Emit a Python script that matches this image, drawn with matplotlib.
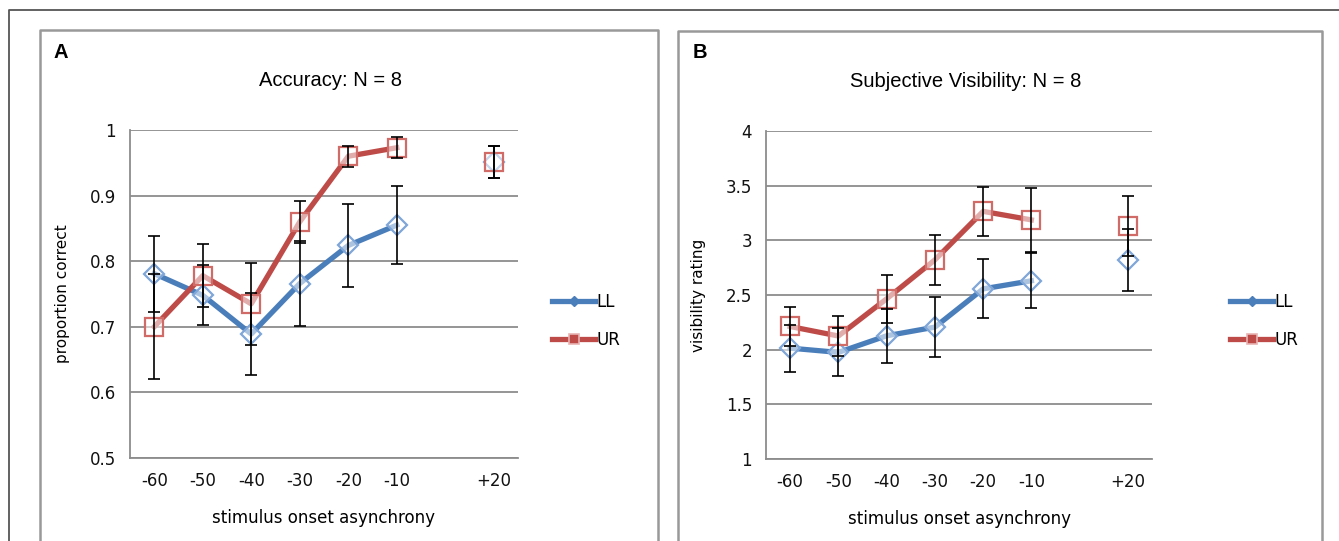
import numpy as np
import matplotlib
matplotlib.use('Agg')
import matplotlib.pyplot as plt
from matplotlib.lines import Line2D

plt.rcParams['font.family'] = ['DejaVu Sans']

# categories (slot 6 is an empty gap before +20)
soa = ['-60', '-50', '-40', '-30', '-20', '-10', '', '+20']

# panel A: accuracy
acc_ll = [0.781, 0.748, 0.689, 0.766, 0.824, 0.855, np.nan, 0.951]
acc_ur = [0.700, 0.778, 0.735, 0.860, 0.960, 0.973, np.nan, 0.951]
acc_ll_err = [0.058, 0.046, 0.063, 0.065, 0.063, 0.060, np.nan, 0.024]
acc_ur_err = [0.080, 0.048, 0.062, 0.032, 0.016, 0.016, np.nan, 0.024]

# panel B: visibility
vis_ll = [2.014, 1.975, 2.127, 2.206, 2.556, 2.630, np.nan, 2.821]
vis_ur = [2.212, 2.125, 2.465, 2.821, 3.265, 3.187, np.nan, 3.135]
vis_ll_err = [0.215, 0.220, 0.245, 0.275, 0.270, 0.250, np.nan, 0.285]
vis_ur_err = [0.180, 0.180, 0.220, 0.225, 0.225, 0.290, np.nan, 0.275]

blue = '#4A7EBB'
red = '#BE4B48'
grid_c = '#8c8c8c'
W, H = 1339, 541

fig = plt.figure(figsize=(W / 100, H / 100), dpi=100)

# outer frame and panel boxes (pixel coords -> figure fraction)
def fline(xs, ys, c='#666666', lw=1.3):
    fig.add_artist(Line2D([x / W for x in xs], [1 - y / H for y in ys],
                          color=c, lw=lw, transform=fig.transFigure))

fline([9, 9, W], [H, 10, 10], c='#555555')
fline([40, 40, 658, 658], [H, 30, 30, H], c='#999999', lw=1.8)
fline([678, 678, 1322, 1322], [H, 31, 31, H], c='#999999', lw=1.8)


def panel(rect, ll, ur, ll_err, ur_err, ylim, yticks, yticklabels,
          title, ylabel, letter, letter_xy, legend_x):
    ax = fig.add_axes(rect)
    x = np.arange(len(soa))
    ax.set_xlim(-0.5, len(soa) - 0.5)
    ax.set_ylim(*ylim)
    ax.set_yticks(yticks)
    ax.set_yticklabels(yticklabels)
    ax.set_xticks(x[:6].tolist() + [7])
    ax.set_xticklabels(soa[:6] + [soa[7]])
    for v in yticks:
        ax.axhline(v, color=grid_c, lw=1.3, zorder=0)
    for s in ['top', 'right']:
        ax.spines[s].set_visible(False)
    for s in ['left', 'bottom']:
        ax.spines[s].set_color(grid_c)
        ax.spines[s].set_linewidth(1.3)
    ax.tick_params(length=0, labelsize=12, pad=10, colors='#111111')

    ax.plot(x, ll, color=blue, lw=3.8, marker='D', ms=10,
            mfc=(1, 1, 1, 0.55), mec='#7FA6D8', mew=1.6, zorder=3, label='LL')
    ax.plot(x, ur, color=red, lw=3.8, marker='s', ms=12.5,
            mfc=(1, 1, 1, 0.55), mec='#D06B68', mew=1.6, zorder=3, label='UR')
    ax.errorbar(x, ll, yerr=ll_err, fmt='none', ecolor='black',
                elinewidth=1.2, capsize=4, capthick=1.2, zorder=4)
    ax.errorbar(x, ur, yerr=ur_err, fmt='none', ecolor='black',
                elinewidth=1.2, capsize=4, capthick=1.2, zorder=4)

    ax.set_title(title, fontsize=14.5, pad=32, x=0.518,
                 family=['Liberation Sans', 'DejaVu Sans'])
    ax.set_ylabel(ylabel, fontsize=11, labelpad=14)
    ax.set_xlabel('stimulus onset asynchrony', fontsize=12, labelpad=14)

    fig.text(letter_xy[0] / W, 1 - letter_xy[1] / H, letter, fontsize=14.5,
             fontweight='bold', ha='left', va='center',
             family=['Liberation Sans', 'DejaVu Sans'])

    h_ll = Line2D([], [], color=blue, lw=3.8, marker='D', ms=5,
                  mfc=blue, mec=blue)
    h_ur = Line2D([], [], color=red, lw=3.8, marker='s', ms=7,
                  mfc=red, mec='#E8B4B3', mew=1.2)
    fig.legend([h_ll, h_ur], ['LL', 'UR'], loc='center left',
               bbox_to_anchor=(legend_x / W, 1 - 321 / H), frameon=False,
               fontsize=12, handlelength=2.6, handletextpad=0.05,
               labelspacing=1.2, borderpad=0, borderaxespad=0)
    return ax


panel([130 / W, 1 - 458 / H, 388 / W, 328 / H], acc_ll, acc_ur,
      acc_ll_err, acc_ur_err, (0.5, 1.0),
      [0.5, 0.6, 0.7, 0.8, 0.9, 1.0], ['0.5', '0.6', '0.7', '0.8', '0.9', '1'],
      'Accuracy: N = 8', 'proportion correct', 'A', (54, 52), 552)

panel([766 / W, 1 - 459 / H, 386 / W, 328 / H], vis_ll, vis_ur,
      vis_ll_err, vis_ur_err, (1, 4),
      [1, 1.5, 2, 2.5, 3, 3.5, 4], ['1', '1.5', '2', '2.5', '3', '3.5', '4'],
      'Subjective Visibility: N = 8', 'visibility rating', 'B', (693, 52), 1230)

fig.savefig('out.png', dpi=100)
